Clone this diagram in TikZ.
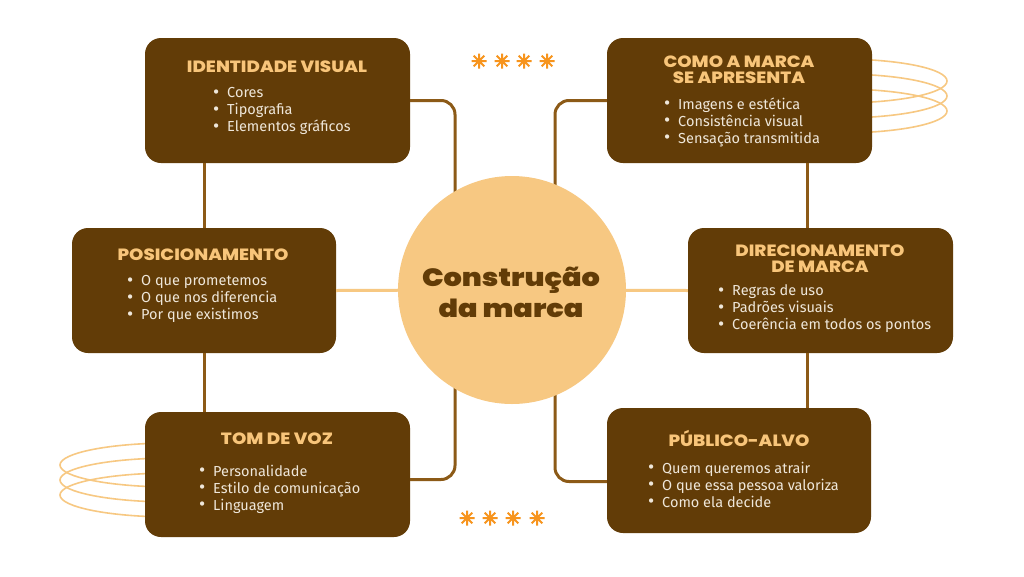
\documentclass[tikz,border=0pt]{standalone}
\usepackage{fontspec}
\setmainfont{Fira Sans}
\newfontfamily\titlefont{Poppins ExtraBold}[FakeStretch=1.12]
\newfontfamily\hubfont{Poppins Black}[FakeStretch=1.15]
\definecolor{boxbrown}{HTML}{623C07}
\definecolor{titlegold}{HTML}{F8C57A}
\definecolor{cream}{HTML}{EFE7DA}
\definecolor{hubfill}{HTML}{F7C882}
\definecolor{connbrown}{HTML}{8C5A17}
\definecolor{starorange}{HTML}{F7941D}
\newcommand\bitem[1]{\makebox[14pt][l]{\fontsize{19}{17}\selectfont\raisebox{-0.5pt}{•}}#1}
\tikzset{
  card/.style={fill=boxbrown, rounded corners=16pt, minimum width=265pt, minimum height=125pt, inner sep=0pt},
  cardtitle/.style={text=titlegold, font=\titlefont\fontsize{16.3}{16}\selectfont, align=center, inner sep=0pt},
  cardlist/.style={text=cream, font=\fontsize{14.5}{17}\selectfont, align=left, inner sep=0pt, anchor=north west},
  conn/.style={draw=connbrown, line width=3pt, rounded corners=14pt},
  soft/.style={draw=hubfill, line width=3pt},
  ring/.style={draw=hubfill, line width=1.6pt},
  spark/.style={draw=starorange, line width=2pt},
}
\newcommand\sparkat[2]{%
  \draw[spark] (#1-7.5,#2) -- (#1+7.5,#2) (#1,#2-7.5) -- (#1,#2+7.5)
    (#1-5.3,#2-5.3) -- (#1+5.3,#2+5.3) (#1-5.3,#2+5.3) -- (#1+5.3,#2-5.3);}
\begin{document}
\begin{tikzpicture}[x=1pt,y=-1pt]
\useasboundingbox[fill=white] (0,0) rectangle (1024,576);

% decorative rings
\foreach \cy in {81,96,111} \draw[ring] (840,\cy) ellipse [x radius=107, y radius=22];
\foreach \cy in {465,480,495} \draw[ring] (172,\cy) ellipse [x radius=112, y radius=22];

% nodes
\node[card] (id)  at (277.5,100.5) {};
\node[card] (cm)  at (739.5,100.5) {};
\node[card, minimum width=264pt] (pos) at (204,290.5) {};
\node[card] (dir) at (820.5,290.5) {};
\node[card] (tom) at (277.5,474.5) {};
\node[card, minimum width=264pt] (pub) at (739,470.5) {};

\coordinate (jl) at (455,290);
\coordinate (jr) at (555,290);
\coordinate (vr) at (807,0);

% connectors (behind hub)
\draw[conn] (id.east) -| (jl);
\draw[conn] ([yshift=-5pt]tom.east) -| (jl);
\draw[conn] (cm.west) -| (jr);
\draw[conn] ([yshift=-11pt]pub.west) -| (jr);
\draw[conn] (id.south -| pos.north) -- (pos.north);
\draw[conn] (pos.south) -- (pos.south |- tom.north);
\draw[conn] (cm.south -| vr) -- (dir.north -| vr);
\draw[conn] (dir.south -| vr) -- (pub.north -| vr);
\draw[soft] (pos.east) -- (jl);
\draw[soft] (jr) -- (dir.west);

% hub
\node[circle, fill=hubfill, minimum size=228pt, inner sep=0pt] (hub) at (512,290) {};
\node[text=boxbrown, font=\hubfont\fontsize{25}{31}\selectfont, align=center] (hubtext) at (511,292) {Construção\\da marca};

% card contents
\node[cardtitle] (idt) at (277,67) {IDENTIDADE VISUAL};
\node[cardlist] (idl) at (213,87.5) {\bitem{Cores}\\\bitem{Tipografia}\\\bitem{Elementos gráficos}};

\node[cardtitle] (cmt) at (739,70) {COMO A MARCA\\SE APRESENTA};
\node[cardlist] (cml) at (664,97.5) {\bitem{Imagens e estética}\\\bitem{Consistência visual}\\\bitem{Sensação transmitida}};

\node[cardtitle] (post) at (203,255) {POSICIONAMENTO};
\node[cardlist] (posl) at (127,275.5) {\bitem{O que prometemos}\\\bitem{O que nos diferencia}\\\bitem{Por que existimos}};

\node[cardtitle] (dirt) at (820,259) {DIRECIONAMENTO\\DE MARCA};
\node[cardlist] (dirl) at (718,284.5) {\bitem{Regras de uso}\\\bitem{Padrões visuais}\\\bitem{Coerência em todos os pontos}};

\node[cardtitle] (tomt) at (277,439) {TOM DE VOZ};
\node[cardlist] (toml) at (199,464.5) {\bitem{Personalidade}\\\bitem{Estilo de comunicação}\\\bitem{Linguagem}};

\node[cardtitle] (pubt) at (739,438) {PÚBLICO-ALVO};
\node[cardlist] (publ) at (648,461.5) {\bitem{Quem queremos atrair}\\\bitem{O que essa pessoa valoriza}\\\bitem{Como ela decide}};

% sparks
\foreach \sx in {479,502,524,547} {\sparkat{\sx}{61}}
\foreach \sx in {467,490,513,537} {\sparkat{\sx}{518}}
\end{tikzpicture}
\end{document}
